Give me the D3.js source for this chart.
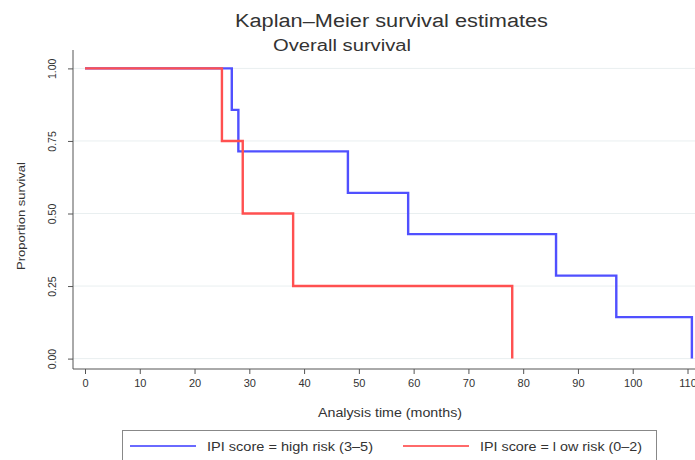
<!DOCTYPE html>
<html lang="en">
<head>
  <meta charset="UTF-8">
  <title>Kaplan-Meier survival estimates</title>
  <script src="https://d3js.org/d3.v7.min.js"></script>
  <style>
    body { margin: 0; background: #fff; }
    text { font-family: "Liberation Sans", Arial, sans-serif; fill: #333; }
    .axis text { font-size: 11px; }
    .axis line { stroke: #555; }
  </style>
</head>
<body>
<div id="chart"></div>
<script>

// survival steps (time in months, proportion surviving)
var highTimes = [0, 26.8, 28.0, 48, 59, 86, 97, 110.8];
var highSurv  = [1, 0.857, 0.714, 0.571, 0.429, 0.286, 0.143, 0];
var lowTimes  = [0, 25, 28.8, 38, 78];
var lowSurv   = [1, 0.75, 0.5, 0.25, 0];

var seriesNames = ["IPI score = high risk (3\u20135)", "IPI score = l ow risk (0\u20132)"];
var xTicks = [0, 10, 20, 30, 40, 50, 60, 70, 80, 90, 100, 110];
var yTicks = [0, 0.25, 0.5, 0.75, 1];

var width = 695, height = 460;

var svg = d3.select("#chart")
  .append("svg")
    .attr("width", width)
    .attr("height", height);

var x = d3.scaleLinear().domain([0, 110]).range([85, 687.5]);
var y = d3.scaleLinear().domain([0, 1]).range([358.6, 68.4]);

var axisX = 73, axisY = 369;

// the source picture is a bit stretched sideways, so texts get a fixed length
function label(sel, len) {
  return sel.attr("textLength", len).attr("lengthAdjust", "spacingAndGlyphs");
}

// gridlines
svg.selectAll(".grid")
  .data(yTicks)
  .enter().append("line")
    .attr("x1", axisX).attr("x2", width)
    .attr("y1", function(d) { return y(d); })
    .attr("y2", function(d) { return y(d); })
    .attr("stroke", "#e9eff0")
    .attr("stroke-width", 1);

// y axis
var gy = svg.append("g")
  .attr("class", "axis")
  .attr("transform", "translate(" + axisX + ",0)")
  .call(d3.axisLeft(y).tickValues(yTicks).tickFormat(d3.format(".2f")).tickSize(5).tickSizeOuter(0));
gy.select(".domain").remove();
gy.selectAll("text")
  .attr("x", null).attr("dy", null)
  .attr("text-anchor", "middle")
  .attr("transform", "translate(-17,0) rotate(-90)")
  .style("font-size", "10.5px");

// x axis
var gx = svg.append("g")
  .attr("class", "axis")
  .attr("transform", "translate(0," + axisY + ")")
  .call(d3.axisBottom(x).tickValues(xTicks).tickSize(5).tickPadding(5).tickSizeOuter(0));
gx.select(".domain").remove();

// axis lines
svg.append("line")
  .attr("x1", axisX).attr("x2", axisX)
  .attr("y1", 50).attr("y2", axisY)
  .attr("stroke", "#555");
svg.append("line")
  .attr("x1", axisX).attr("x2", width)
  .attr("y1", axisY).attr("y2", axisY)
  .attr("stroke", "#555");

// curves
var line = d3.line()
  .x(function(d) { return x(d[0]); })
  .y(function(d) { return y(d[1]); })
  .curve(d3.curveStepAfter);

svg.append("path")
  .datum(d3.zip(highTimes, highSurv))
  .attr("fill", "none")
  .attr("stroke", "#5050ff")
  .attr("stroke-width", 2.4)
  .attr("d", line);

svg.append("path")
  .datum(d3.zip(lowTimes, lowSurv))
  .attr("fill", "none")
  .attr("stroke", "#ff5050")
  .attr("stroke-width", 2.4)
  .attr("d", line);

// titles
label(svg.append("text")
  .attr("x", 235).attr("y", 27)
  .style("font-size", "18px")
  .text("Kaplan\u2013Meier survival estimates"), 313);

label(svg.append("text")
  .attr("x", 273).attr("y", 51)
  .style("font-size", "16px")
  .text("Overall survival"), 138);

label(svg.append("text")
  .attr("x", 318).attr("y", 417)
  .style("font-size", "12px")
  .text("Analysis time (months)"), 144);

label(svg.append("text")
  .attr("transform", "translate(25,270) rotate(-90)")
  .style("font-size", "11px")
  .text("Proportion survival"), 108);

// legend
var legend = svg.append("g");
legend.append("rect")
  .attr("x", 122.5).attr("y", 430.5)
  .attr("width", 534).attr("height", 40)
  .attr("fill", "#fff")
  .attr("stroke", "#888");

var legendColors = ["#6a6aff", "#ff6a6a"];
var legendX = [130, 403];
var legendLen = [166, 162];
seriesNames.forEach(function(name, i) {
  legend.append("line")
    .attr("x1", legendX[i]).attr("x2", legendX[i] + 66)
    .attr("y1", 446).attr("y2", 446)
    .attr("stroke", legendColors[i])
    .attr("stroke-width", 2);
  label(legend.append("text")
    .attr("x", legendX[i] + 77).attr("y", 451)
    .style("font-size", "12px")
    .text(name), legendLen[i]);
});

</script>
</body>
</html>
